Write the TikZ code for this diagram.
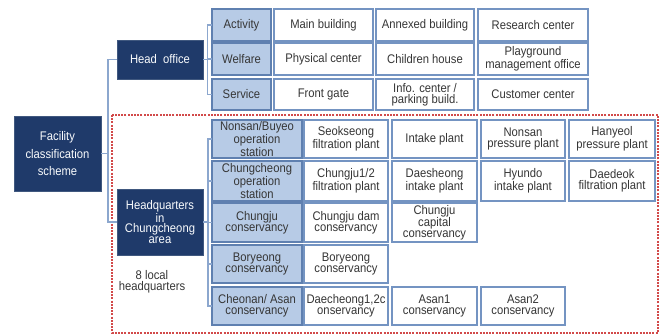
\documentclass[tikz,border=0pt]{standalone}
\usepackage{fontspec}
\setmainfont{Liberation Sans}[FakeStretch=0.9]
\begin{document}
\definecolor{navy}{HTML}{1F3A6A}
\definecolor{navyedge}{HTML}{40587F}
\definecolor{paleblue}{HTML}{B7CBE6}
\definecolor{paleedge}{HTML}{5F80B0}
\definecolor{whiteedge}{HTML}{7494C2}
\definecolor{linkcol}{HTML}{8CA7CE}
\definecolor{txtgray}{HTML}{363636}
\definecolor{zonered}{HTML}{D24A4A}
\tikzset{
  basebox/.style={rectangle, inner sep=0pt, outer sep=0pt, align=center,
    font=\fontsize{12.5}{10.7}\selectfont},
  darkbox/.style={basebox, fill=navy, draw=navyedge, line width=0.8pt, text=white!92!paleblue},
  midbox/.style={basebox, fill=paleblue, draw=paleedge, line width=1.2pt, text=txtgray},
  leafbox/.style={basebox, fill=white, draw=whiteedge, line width=1.3pt, text=txtgray},
  link/.style={draw=linkcol, line width=1.2pt},
  zone/.style={draw=zonered, line width=1.4pt, dash pattern=on 2pt off 1.2pt}
}
% #1 style, #2 name, #3 left, #4 right, #5 top, #6 bottom, #7 text
\newcommand\placebox[7]{%
  \node[#1, minimum width={(#4-#3)*1pt}, minimum height={(#6-#5)*1pt}]
    (#2) at ({(#3+#4)/2},{(#5+#6)/2}) {#7};}
\begin{tikzpicture}[x=1pt, y=-1pt]
\useasboundingbox (0,0) rectangle (660,336);

% region holding the local headquarters
\draw[zone] (112,115) rectangle (658,333);

% root and second level
\placebox{darkbox}{fac}{14}{101}{116}{191}{Facility\\[6pt]classification\\[6pt]scheme}
\placebox{darkbox}{ho}{117}{203}{40}{79}{Head\ \ office}
\placebox{darkbox}{hq}{117}{203}{189}{255}{Headquarters\\in\\Chungcheong\\area}
\node[basebox, text=txtgray] (lbl) at (152,282) {8 local\\headquarters};

% head office categories
\placebox{midbox}{act}{212}{271}{9}{41}{Activity}
\placebox{midbox}{wel}{212}{271}{43}{75}{Welfare}
\placebox{midbox}{ser}{212}{271}{79}{110}{Service}

\placebox{leafbox}{a1}{274}{373}{9}{41}{Main building}
\placebox{leafbox}{a2}{376}{474}{9}{41}{Annexed building}
\placebox{leafbox}{a3}{478}{588}{9}{41}{Research center}
\placebox{leafbox}{w1}{274}{373}{43}{75}{Physical center}
\placebox{leafbox}{w2}{376}{474}{43}{75}{Children house}
\placebox{leafbox}{w3}{478}{588}{43}{75}{Playground\\management office}
\placebox{leafbox}{s1}{274}{373}{79}{110}{Front gate}
\placebox{leafbox}{s2}{376}{474}{79}{110}{Info. center /\\parking build.}
\placebox{leafbox}{s3}{478}{588}{79}{110}{Customer center}

% local headquarters units
\placebox{midbox}{r1}{212}{302}{120}{158}{Nonsan/Buyeo\\operation\\station}
\placebox{midbox}{r2}{212}{302}{161}{201}{Chungcheong\\operation\\station}
\placebox{midbox}{r3}{212}{302}{203}{242}{Chungju\\conservancy}
\placebox{midbox}{r4}{212}{302}{245}{283}{Boryeong\\conservancy}
\placebox{midbox}{r5}{212}{302}{287}{325}{Cheonan/ Asan\\conservancy}

\placebox{leafbox}{r1a}{304}{388}{120}{158}{Seokseong\\filtration plant}
\placebox{leafbox}{r1b}{392}{477}{120}{158}{Intake plant}
\placebox{leafbox}{r1c}{481}{565}{120}{158}{Nonsan\\pressure plant}
\placebox{leafbox}{r1d}{569}{655}{120}{158}{Hanyeol\\pressure plant}

\placebox{leafbox}{r2a}{304}{388}{161}{201}{Chungju1/2\\filtration plant}
\placebox{leafbox}{r2b}{392}{477}{161}{201}{Daesheong\\intake plant}
\placebox{leafbox}{r2c}{481}{565}{161}{201}{Hyundo\\intake plant}
\placebox{leafbox}{r2d}{569}{655}{161}{201}{Daedeok\\filtration plant}

\placebox{leafbox}{r3a}{304}{388}{203}{242}{Chungju dam\\conservancy}
\placebox{leafbox}{r3b}{392}{477}{203}{242}{Chungju\\capital\\conservancy}

\placebox{leafbox}{r4a}{304}{388}{245}{283}{Boryeong\\conservancy}

\placebox{leafbox}{r5a}{304}{388}{287}{325}{Daecheong1,2c\\onservancy}
\placebox{leafbox}{r5b}{392}{477}{287}{325}{Asan1\\conservancy}
\placebox{leafbox}{r5c}{481}{565}{287}{325}{Asan2\\conservancy}

% connectors
\draw[link] (fac.east) -- ++(7,0) coordinate (fj);
\draw[link] (fj) |- (ho.west);
\draw[link] (fj) |- (hq.west);

\draw[link] (ho.east) -- ++(4.5,0) coordinate (hj);
\foreach \t in {act,wel,ser} \draw[link] (hj) |- (\t.west);

\draw[link] (hq.east) -- ++(5,0) coordinate (qj);
\foreach \t in {r1,r2,r3,r4,r5} \draw[link] (qj) |- (\t.west);
\end{tikzpicture}
\end{document}
